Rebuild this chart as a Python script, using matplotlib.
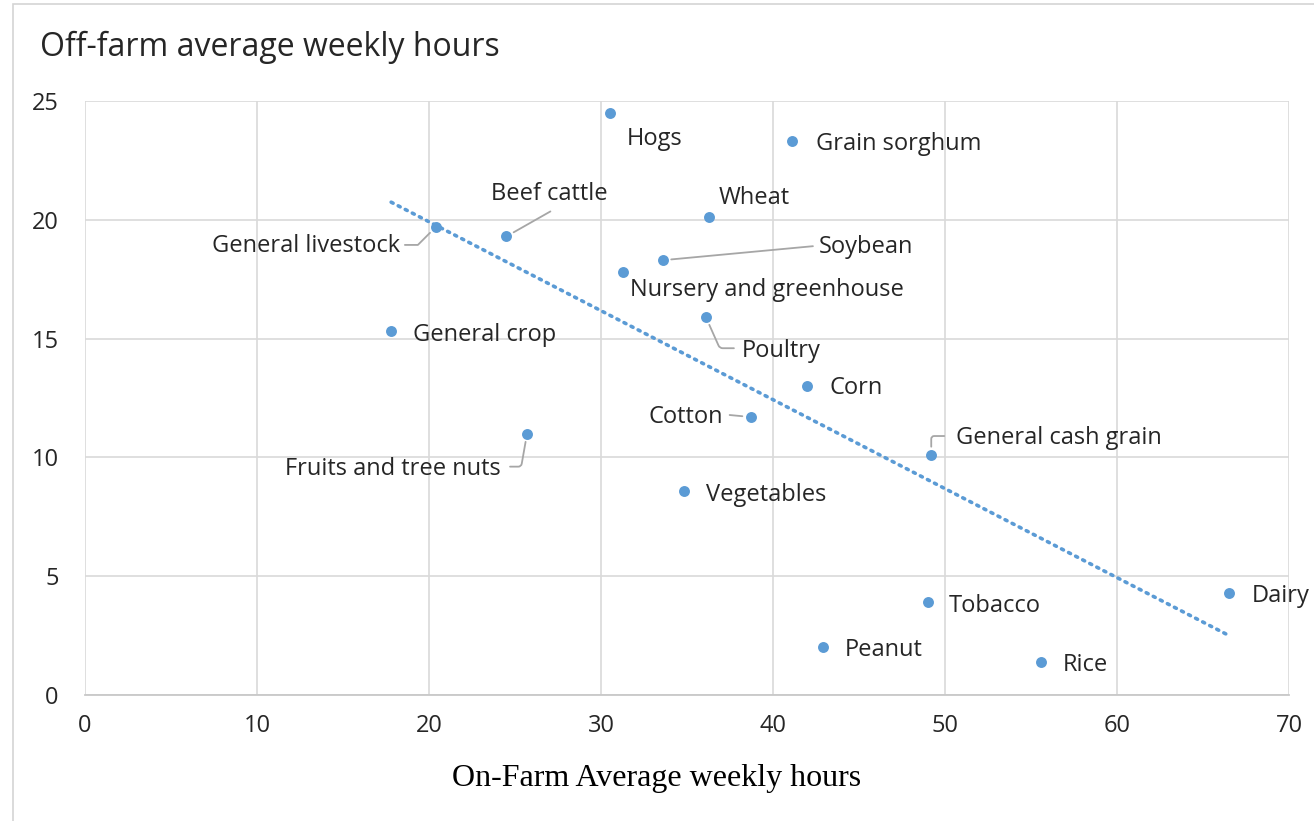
import numpy as np
import matplotlib
matplotlib.use("Agg")
import matplotlib.pyplot as plt
from matplotlib.patches import Rectangle

categories = ["Hogs", "Grain sorghum", "Wheat", "General livestock", "Beef cattle",
              "Soybean", "Nursery and greenhouse", "Poultry", "General crop", "Corn",
              "Cotton", "Fruits and tree nuts", "General cash grain", "Vegetables",
              "Dairy", "Tobacco", "Peanut", "Rice"]
on_farm = [30.5, 41.1, 36.3, 20.4, 24.5, 33.6, 31.3, 36.1, 17.8, 42.0,
           38.7, 25.7, 49.2, 34.8, 66.5, 49.0, 42.9, 55.6]
off_farm = [24.5, 23.3, 20.1, 19.7, 19.3, 18.3, 17.8, 15.9, 15.3, 13.0,
            11.7, 11.0, 10.1, 8.6, 4.3, 3.9, 2.0, 1.4]
x_ticks = [0, 10, 20, 30, 40, 50, 60, 70]
y_ticks = [0, 5, 10, 15, 20, 25]

# label placement: (dx, dy) in pixels from the point, ha, leader connection style or None
label_pos = {
    "Hogs": (17, -26, "left", None),
    "Grain sorghum": (24, -3, "left", None),
    "Wheat": (9, 19, "left", None),
    "General livestock": (-36, -19, "right", ("angle,angleA=0,angleB=45,rad=0", (-31, -18))),
    "Beef cattle": (43, 42, "center", ("arc3,rad=0", (44, 25))),
    "Soybean": (156, 13, "left", ("arc3,rad=0", (150, 14))),
    "Nursery and greenhouse": (7, -18, "left", None),
    "Poultry": (36, -34, "left", ("angle,angleA=0,angleB=-66,rad=3", (28, -31))),
    "General crop": (22, -4, "left", None),
    "Corn": (22, -2, "left", None),
    "Cotton": (-28, 0, "right", ("arc3,rad=0", (-21, 2))),
    "Fruits and tree nuts": (-26, -35, "right", ("angle,angleA=0,angleB=80,rad=3", (-17, -33))),
    "General cash grain": (25, 17, "left", ("angle,angleA=0,angleB=90,rad=3", (13, 19))),
    "Vegetables": (22, -4, "left", None),
    "Dairy": (23, -3, "left", None),
    "Tobacco": (21, -4, "left", None),
    "Peanut": (22, -3, "left", None),
    "Rice": (21, -3, "left", None),
}

blue = "#5B9BD5"
grid_c = "#D9D9D9"
text_c = "#262626"
font = ["Open Sans", "DejaVu Sans"]

fig = plt.figure(figsize=(13.14, 8.21), dpi=100)
fig.patch.set_facecolor("white")
# chart-area border (top and left visible)
fig.add_artist(Rectangle((13 / 1314, -0.1), 1.2, 1 - 4 / 821 + 0.1, transform=fig.transFigure,
                         fill=False, edgecolor="#D4D4D4", linewidth=1.2))

ax = fig.add_axes([85 / 1314, 1 - 695 / 821, (1289 - 85) / 1314, (695 - 101) / 821])
ax.set_xlim(0, 70)
ax.set_ylim(0, 25)
ax.set_xticks(x_ticks)
ax.set_yticks(y_ticks)
ax.grid(True, color=grid_c, linewidth=1.2)
ax.set_axisbelow(True)
for s in ["top", "right", "left"]:
    ax.spines[s].set_visible(False)
ax.spines["bottom"].set_color("#C8C8C8")
ax.spines["bottom"].set_linewidth(1.3)
ax.tick_params(length=0, labelsize=17, labelcolor=text_c)
ax.tick_params(axis="x", pad=14)
ax.tick_params(axis="y", pad=19)
for lab in ax.get_xticklabels() + ax.get_yticklabels():
    lab.set_family(font)

ax.scatter(on_farm, off_farm, s=62, color=blue, zorder=3, linewidths=0)

# linear trendline (least squares, as in the spreadsheet)
xs = np.array(on_farm)
ys = np.array(off_farm)
k, b = np.polyfit(xs, ys, 1)
xl = np.array([xs.min(), xs.max()])
ax.plot(xl, k * xl + b, color=blue, linestyle=(0, (0.6, 1.6)), linewidth=2.6,
        dash_capstyle="round", zorder=2)

for name, x, y in zip(categories, on_farm, off_farm):
    dx, dy, ha, leader = label_pos[name]
    ax.annotate(name, xy=(x, y), xytext=(dx, dy), textcoords="offset pixels",
                ha=ha, va="center", fontsize=17, color=text_c, family=font,
                annotation_clip=False, zorder=4)
    if leader is not None:
        cs, (lx, ly) = leader
        ax.annotate("", xy=(x, y), xytext=(lx, ly), textcoords="offset pixels",
                    arrowprops=dict(arrowstyle="-", color="#A6A6A6", linewidth=1.3,
                                    connectionstyle=cs, shrinkA=0, shrinkB=6),
                    annotation_clip=False, zorder=2)

fig.text(40 / 1314, 1 - 47 / 821, "Off-farm average weekly hours", fontsize=23,
         color=text_c, family=font, ha="left", va="center")
fig.text(657 / 1314, 1 - 778 / 821, "On-Farm Average weekly hours", fontsize=23,
         color="black", family=["Liberation Serif", "DejaVu Serif"], ha="center", va="center")

fig.savefig("out.png", dpi=100, facecolor="white")
